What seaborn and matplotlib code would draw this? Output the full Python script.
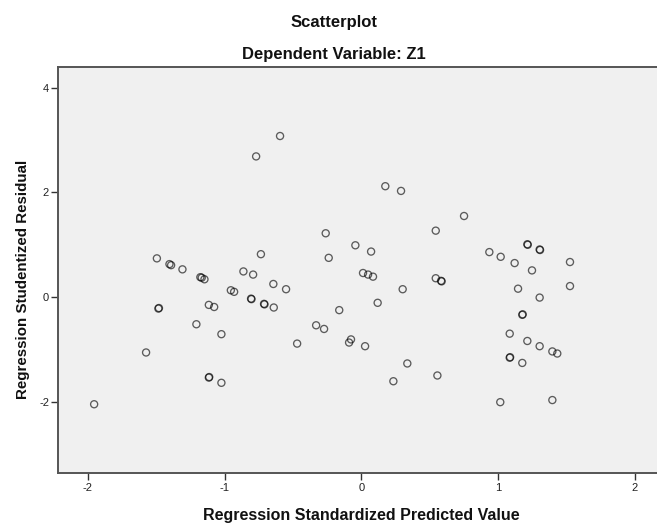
import matplotlib
matplotlib.use("Agg")
import matplotlib.pyplot as plt
import seaborn as sns
import pandas as pd

# Standardized predicted values (x) and studentized residuals (y)
pred_value = [
    -1.954, -1.574, -1.495, -1.484, -1.480, -1.403, -1.391, -1.308, -1.206,
    -1.177, -1.167, -1.147, -1.115, -1.076, -1.115, -1.112, -1.023, -1.023,
    -0.954, -0.930, -0.862, -0.806, -0.803, -0.791, -0.769, -0.734, -0.711,
    -0.708, -0.643, -0.640, -0.594, -0.550, -0.469, -0.330, -0.272, -0.260,
    -0.238, -0.161, -0.089, -0.075, -0.043, 0.013, 0.028, 0.050, 0.072,
    0.086, 0.120, 0.176, 0.235, 0.291, 0.303, 0.337, 0.545, 0.545, 0.557,
    0.584, 0.588, 0.752, 0.937, 1.017, 1.020, 1.086, 1.086, 1.089, 1.122,
    1.147, 1.178, 1.181, 1.178, 1.215, 1.218, 1.215, 1.249, 1.305, 1.308,
    1.305, 1.305, 1.398, 1.398, 1.434, 1.527, 1.527,
]
stud_resid = [
    -2.05, -1.06, 0.74, -0.22, -0.21, 0.63, 0.61, 0.53, -0.52,
    0.38, 0.37, 0.34, -0.15, -0.19, -1.54, -1.53, -0.71, -1.64,
    0.13, 0.10, 0.49, -0.03, -0.04, 0.43, 2.69, 0.82, -0.13,
    -0.14, 0.25, -0.20, 3.08, 0.15, -0.89, -0.54, -0.61, 1.22,
    0.75, -0.25, -0.87, -0.81, 0.99, 0.46, -0.94, 0.43, 0.87,
    0.39, -0.11, 2.12, -1.61, 2.03, 0.15, -1.27, 1.27, 0.36, -1.50,
    0.31, 0.30, 1.55, 0.86, -2.01, 0.77, -0.70, -1.16, -1.15, 0.65,
    0.16, -0.34, -0.33, -1.26, 1.01, 1.00, -0.84, 0.51, 0.91, 0.90,
    -0.01, -0.94, -1.04, -1.97, -1.08, 0.67, 0.21,
]

x_ticks = [-2, -1, 0, 1, 2]
y_ticks = [-2, 0, 2, 4]

df = pd.DataFrame({"pred": pred_value, "resid": stud_resid})

sns.set_style("white", {"axes.facecolor": "#F0F0F0"})
plt.rcParams["font.family"] = ["Liberation Sans", "DejaVu Sans"]

W, H = 657, 526
fig = plt.figure(figsize=(W / 100, H / 100), dpi=100)
fig.patch.set_facecolor("white")

left, right, top, bottom = 57.5, 665.0, 67.0, 473.0
ax = fig.add_axes([left / W, 1 - bottom / H, (right - left) / W, (bottom - top) / H])
ax.set_facecolor("#F0F0F0")

sns.scatterplot(
    data=df, x="pred", y="resid", ax=ax,
    marker="o", s=26, facecolors="none", edgecolor=(0, 0, 0, 0.62),
    linewidth=0.95,
)

ax.set_xlim(-2.222, 2.222)
ax.set_ylim(-3.365, 4.40)
ax.set_xticks(x_ticks)
ax.set_yticks(y_ticks)
ax.set_xticklabels([str(t) for t in x_ticks])
ax.set_yticklabels([str(t) for t in y_ticks])

for side in ("left", "bottom", "top"):
    ax.spines[side].set_visible(True)
    ax.spines[side].set_color("#555555")
    ax.spines[side].set_linewidth(1.4)
ax.spines["right"].set_visible(False)

ax.tick_params(axis="both", which="major", direction="out", length=5, width=1,
               color="#333333", labelsize=8, labelcolor="#222222",
               bottom=True, left=True, top=False, right=False)
ax.tick_params(axis="x", pad=2.0)
ax.tick_params(axis="y", pad=1)

ax.set_xlabel("Regression Standardized Predicted Value", fontsize=11.5,
              fontweight="bold", color="#111111")
ax.set_ylabel("Regression Studentized Residual", fontsize=10.9,
              fontweight="bold", color="#111111")
ax.xaxis.set_label_coords(0.5, -0.087)
ax.yaxis.set_label_coords(-0.045, 0.478)

fig.text(334 / W, 1 - 27 / H, "Scatterplot", ha="center", va="baseline",
         fontsize=12, fontweight="bold", color="#111111")
fig.text(334 / W, 1 - 59 / H, "Dependent Variable: Z1", ha="center",
         va="baseline", fontsize=12, fontweight="bold", color="#111111")

fig.savefig("out.png", dpi=100)
